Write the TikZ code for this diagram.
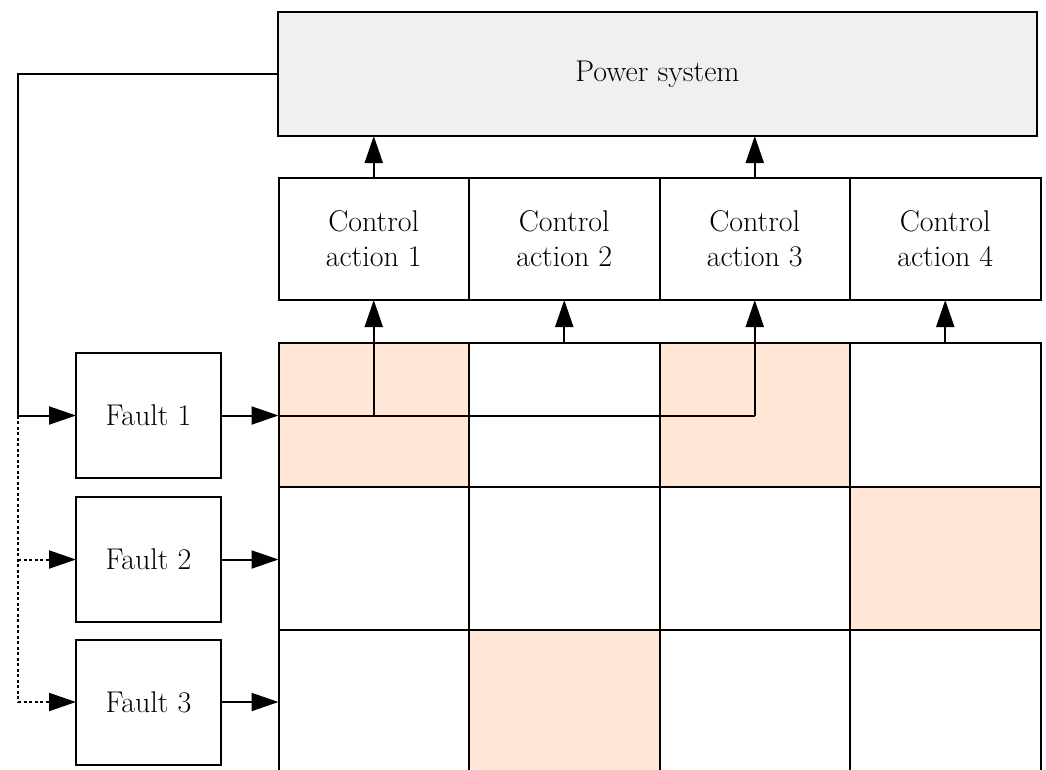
\documentclass[tikz,border=0pt]{standalone}
\usetikzlibrary{arrows.meta,positioning}

\definecolor{sysgray}{HTML}{F0F0F0}
\definecolor{peach}{HTML}{FFE6D5}

\tikzset{
  box/.style={draw=black, line width=2pt, inner sep=0pt, outer sep=0pt,
    align=center, font=\fontsize{30}{35}\selectfont},
  cell/.style={box, minimum width=190.5pt, minimum height=143.5pt},
  hot/.style={cell, fill=peach},
  ctrlbox/.style={box, minimum width=190.5pt, minimum height=122pt},
  faultbox/.style={box, minimum width=145pt, minimum height=125pt},
  link/.style={line width=2pt},
  sig/.style={link, -{Triangle[length=27pt,width=18pt]}},
  dotsig/.style={sig, dash pattern=on 3pt off 2.5pt},
  dotlink/.style={link, dash pattern=on 3pt off 2.5pt},
}

\begin{document}
\begin{tikzpicture}[x=1pt, y=-1pt]
\useasboundingbox (0,0) rectangle (1046,769);
\clip (0,0) rectangle (1046,769);

% plant
\node[box, fill=sysgray, minimum width=759pt, minimum height=124pt]
  (power) at (657.5,74) {Power system};

% control actions
\foreach \i/\x in {1/373.75, 2/564.25, 3/754.75, 4/945.25}
  \node[ctrlbox] (ctrl\i) at (\x,239) {Control\\action \i};

% fault-to-action mapping grid
\foreach \r/\y in {1/415, 2/558.5, 3/702}
  \foreach \c/\x in {1/373.75, 2/564.25, 3/754.75, 4/945.25}
    \node[cell] (c\r\c) at (\x,\y) {};
\node[hot] at (c11) {};
\node[hot] at (c13) {};
\node[hot] at (c24) {};
\node[hot] at (c32) {};
\foreach \r in {1,2,3}
  \foreach \c in {1,2,3,4}
    \node[cell] at (c\r\c) {};

% faults
\node[faultbox] (f1) at (148.5,415.5) {Fault 1};
\node[faultbox] (f2) at (148.5,559.5) {Fault 2};
\node[faultbox] (f3) at (148.5,702) {Fault 3};

% feedback from the plant to the faults
\coordinate (top) at (18,74);
\coordinate (b1) at (top |- f1.west);
\coordinate (b2) at (top |- f2.west);
\coordinate (b3) at (top |- f3.west);
\draw[link] (power.west |- top) -- (top) -- (b1);
\draw[sig] (b1) -- (f1.west);
\draw[dotlink] (b1) -- (b3);
\draw[dotsig] (b2) -- (f2.west);
\draw[dotsig] (b3) -- (f3.west);

% faults into the grid
\draw[sig] (f1.east) -- (f1.east -| c11.west);
\draw[sig] (f2.east) -- (f2.east -| c21.west);
\draw[sig] (f3.east) -- (f3.east -| c31.west);

% fault 1 triggers actions 1 and 3
\coordinate (j1) at (ctrl1.south |- f1.east);
\coordinate (j3) at (ctrl3.south |- f1.east);
\draw[link] (f1.east -| c11.west) -- (j3);
\draw[sig] (j1) -- (ctrl1.south);
\draw[sig] (j3) -- (ctrl3.south);
\draw[sig] (c12.north) -- (ctrl2.south);
\draw[sig] (c14.north) -- (ctrl4.south);

% actions applied to the plant
\draw[sig] (ctrl1.north) -- (ctrl1.north |- power.south);
\draw[sig] (ctrl3.north) -- (ctrl3.north |- power.south);
\end{tikzpicture}
\end{document}
